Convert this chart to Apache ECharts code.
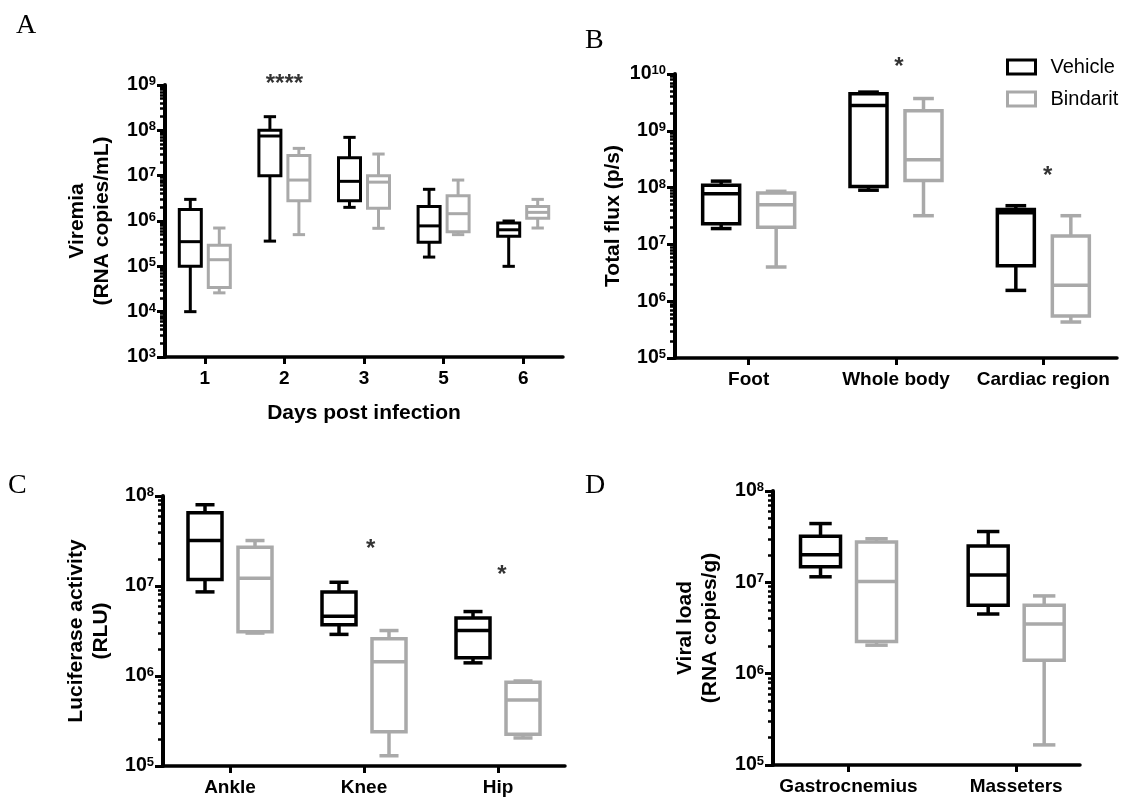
<!DOCTYPE html>
<html><head><meta charset="utf-8">
<script src="https://cdn.jsdelivr.net/npm/echarts@6/dist/echarts.min.js"></script>
<style>html,body{margin:0;padding:0;background:#fff}#c{width:1126px;height:801px}</style>
</head><body><div id="c"></div>
<script>
// ---------- DATA (each box: [min, q1, median, q3, max]) ----------
const daysA = ['1', '2', '3', '5', '6'];
const posA = [0.5, 1.5, 2.5, 3.5, 4.5];
const vehicleA = [
  [1e4, 1e5, 3.5e5, 1.8e6, 3e6],
  [3.6e5, 1e7, 7.5e7, 1e8, 2e8],
  [2e6, 2.8e6, 7.5e6, 2.5e7, 7e7],
  [1.6e5, 3.4e5, 7.8e5, 2.1e6, 5e6],
  [1e5, 4.6e5, 6.4e5, 9e5, 1e6]
];
const bindaritA = [
  [2.6e4, 3.4e4, 1.4e5, 2.9e5, 7e5],
  [5e5, 2.8e6, 8e6, 2.8e7, 4e7],
  [6.9e5, 1.9e6, 7.2e6, 1e7, 3e7],
  [5e5, 5.8e5, 1.45e6, 3.6e6, 8e6],
  [7e5, 1.15e6, 1.55e6, 2.1e6, 3e6]
];
const decadesA = [1e3, 1e4, 1e5, 1e6, 1e7, 1e8, 1e9];

const sitesB = ['Foot', 'Whole body', 'Cardiac region'];
const posB = [0.5, 1.5, 2.5];
const vehicleB = [
  [1.9e7, 2.3e7, 7.8e7, 1.1e8, 1.3e8],
  [9e7, 1.05e8, 2.8e9, 4.5e9, 4.8e9],
  [1.55e6, 4.2e6, 3.6e7, 4.1e7, 4.8e7]
];
const bindaritB = [
  [4e6, 2e7, 5e7, 8e7, 8.6e7],
  [3.2e7, 1.34e8, 3.1e8, 2.25e9, 3.7e9],
  [4.3e5, 5.5e5, 1.9e6, 1.4e7, 3.2e7]
];
const decadesB = [1e5, 1e6, 1e7, 1e8, 1e9, 1e10];

const jointsC = ['Ankle', 'Knee', 'Hip'];
const posC = [0.5, 1.5, 2.5];
const vehicleC = [
  [8.6e6, 1.18e7, 3.2e7, 6.5e7, 8e7],
  [2.9e6, 3.7e6, 4.6e6, 8.6e6, 1.1e7],
  [1.4e6, 1.6e6, 3.2e6, 4.4e6, 5.2e6]
];
const bindaritC = [
  [3e6, 3.1e6, 1.22e7, 2.7e7, 3.2e7],
  [1.3e5, 2.4e5, 1.44e6, 2.6e6, 3.2e6],
  [2.05e5, 2.25e5, 5.4e5, 8.5e5, 8.8e5]
];
const decadesC = [1e5, 1e6, 1e7, 1e8];

const musclesD = ['Gastrocnemius', 'Masseters'];
const posD = [1, 3.22];
const vehicleD = [
  [1.15e7, 1.48e7, 2.0e7, 3.2e7, 4.4e7],
  [4.5e6, 5.6e6, 1.2e7, 2.5e7, 3.6e7]
];
const bindaritD = [
  [2.05e6, 2.25e6, 1.02e7, 2.77e7, 3e7],
  [1.66e5, 1.4e6, 3.5e6, 5.6e6, 7.1e6]
];
const decadesD = [1e5, 1e6, 1e7, 1e8];

// significance marks: [x position, y value, text]
const starsA = [[1.5, 1.3e9, '****']];
const starsB = [[1.52, 1.6e10, '*'], [2.53, 1.9e8, '*']];
const starsC = [[1.55, 2.9e7, '*'], [2.53, 1.5e7, '*']];

// ---------- STYLE ----------
const FONT = "'Liberation Sans', Arial, sans-serif";
const BLACK = '#000000';
const GRAY = '#a9a9a9';

function minorTicks(decades) {
  const out = [];
  for (let i = 0; i < decades.length - 1; i++) {
    for (let k = 2; k <= 9; k++) out.push(k * decades[i]);
  }
  return out;
}

function boxRender(offset, boxW, color, lw) {
  return function (params, api) {
    const x = api.value(0);
    const pMin = api.coord([x, api.value(1)]);
    const pQ1 = api.coord([x, api.value(2)]);
    const pMed = api.coord([x, api.value(3)]);
    const pQ3 = api.coord([x, api.value(4)]);
    const pMax = api.coord([x, api.value(5)]);
    const cx = pMin[0] + offset;
    const hw = boxW / 2, cw = boxW * 0.28;
    const st = { stroke: color, lineWidth: lw, fill: null };
    return {
      type: 'group', children: [
        { type: 'line', shape: { x1: cx, y1: pMax[1], x2: cx, y2: pQ3[1] }, style: st },
        { type: 'line', shape: { x1: cx, y1: pQ1[1], x2: cx, y2: pMin[1] }, style: st },
        { type: 'line', shape: { x1: cx - cw, y1: pMax[1], x2: cx + cw, y2: pMax[1] }, style: st },
        { type: 'line', shape: { x1: cx - cw, y1: pMin[1], x2: cx + cw, y2: pMin[1] }, style: st },
        { type: 'rect', shape: { x: cx - hw, y: pQ3[1], width: boxW, height: pQ1[1] - pQ3[1] },
          style: { stroke: color, lineWidth: lw, fill: '#ffffff', lineJoin: 'miter' } },
        { type: 'line', shape: { x1: cx - hw, y1: pMed[1], x2: cx + hw, y2: pMed[1] }, style: st }
      ]
    };
  };
}

function rows(pos, boxes) {
  return boxes.map((b, i) => [pos[i]].concat(b));
}

function supLabel(v) {
  const e = Math.round(Math.log10(v));
  return '10{s|' + e + '}';
}

const panels = [
  { grid: { left: 165, top: 85, width: 398, height: 272 }, xmax: 5, pos: posA, cats: daysA,
    veh: vehicleA, bin: bindaritA, dec: decadesA, name: 'Viremia\n(RNA copies/mL)', nameGap: 50,
    xname: 'Days post infection', boxW: 22, off: 14.5, lw: 3, stars: starsA },
  { grid: { left: 675, top: 74, width: 442, height: 284 }, xmax: 3, pos: posB, cats: sitesB,
    veh: vehicleB, bin: bindaritB, dec: decadesB, name: 'Total flux (p/s)', nameGap: 46,
    xname: '', boxW: 37, off: 27.5, lw: 3.5, stars: starsB },
  { grid: { left: 163, top: 496, width: 402, height: 270 }, xmax: 3, pos: posC, cats: jointsC,
    veh: vehicleC, bin: bindaritC, dec: decadesC, name: 'Luciferase activity\n(RLU)', nameGap: 49,
    xname: '', boxW: 34, off: 25, lw: 3.5, stars: starsC },
  { grid: { left: 773, top: 491, width: 307, height: 274 }, xmax: 4.065, pos: posD, cats: musclesD,
    veh: vehicleD, bin: bindaritD, dec: decadesD, name: 'Viral load\n(RNA copies/g)', nameGap: 50,
    xname: '', boxW: 40, off: 28, lw: 3.5, stars: [] }
];

const grids = [], xAxes = [], yAxes = [], series = [];
panels.forEach((p, gi) => {
  grids.push(p.grid);
  xAxes.push({
    gridIndex: gi, type: 'value', min: 0, max: p.xmax,
    splitLine: { show: false },
    axisLine: { show: true, onZero: false, lineStyle: { color: BLACK, width: 3.5 } },
    axisTick: { show: true, customValues: p.pos, length: 7, lineStyle: { color: BLACK, width: 3 } },
    axisLabel: {
      show: true, customValues: p.pos, margin: 12,
      formatter: v => { const i = p.pos.findIndex(q => Math.abs(q - v) < 1e-6); return i >= 0 ? p.cats[i] : ''; },
      fontFamily: FONT, fontWeight: 'bold', fontSize: 19, color: BLACK
    },
    name: p.xname, nameLocation: 'middle', nameGap: 46,
    nameTextStyle: { fontFamily: FONT, fontWeight: 'bold', fontSize: 21, color: BLACK }
  });
  const yMain = yAxes.length;
  yAxes.push({
    gridIndex: gi, type: 'log', logBase: 10, position: 'left',
    min: p.dec[0], max: p.dec[p.dec.length - 1],
    splitLine: { show: false },
    axisLine: { show: true, onZero: false, lineStyle: { color: BLACK, width: 4 } },
    axisTick: { show: true, customValues: p.dec, length: 8, lineStyle: { color: BLACK, width: 3 } },
    axisLabel: {
      show: true, customValues: p.dec, margin: 9, formatter: supLabel,
      fontFamily: FONT, fontWeight: 'bold', fontSize: 19.5, color: BLACK,
      rich: { s: { fontFamily: FONT, fontWeight: 'bold', fontSize: 13, color: BLACK, verticalAlign: 'top' } }
    },
    name: p.name, nameLocation: 'middle', nameGap: p.nameGap, nameRotate: 90,
    nameTextStyle: { fontFamily: FONT, fontWeight: 'bold', fontSize: 21, color: BLACK, lineHeight: 25 }
  });
  yAxes.push({
    gridIndex: gi, type: 'log', logBase: 10, position: 'left', offset: 0,
    min: p.dec[0], max: p.dec[p.dec.length - 1],
    splitLine: { show: false },
    axisLine: { show: false, onZero: false },
    axisTick: { show: true, customValues: minorTicks(p.dec), length: 5, lineStyle: { color: BLACK, width: 2.5 } },
    axisLabel: { show: false }
  });
  series.push({
    type: 'custom', name: 'Vehicle', xAxisIndex: gi, yAxisIndex: yMain,
    itemStyle: { color: BLACK }, clip: false,
    renderItem: boxRender(-p.off, p.boxW, BLACK, p.lw),
    encode: { x: 0, y: [1, 2, 3, 4, 5] },
    data: rows(p.pos, p.veh)
  });
  series.push({
    type: 'custom', name: 'Bindarit', xAxisIndex: gi, yAxisIndex: yMain,
    itemStyle: { color: GRAY }, clip: false,
    renderItem: boxRender(p.off, p.boxW, GRAY, p.lw),
    encode: { x: 0, y: [1, 2, 3, 4, 5] },
    data: rows(p.pos, p.bin)
  });
  if (p.stars.length) {
    series.push({
      type: 'scatter', xAxisIndex: gi, yAxisIndex: yMain, symbolSize: 0, clip: false, silent: true,
      data: p.stars,
      label: {
        show: true, position: 'inside', offset: [0, 5], formatter: d => d.data[2],
        fontFamily: FONT, fontWeight: 'bold', fontSize: 24, color: BLACK
      }
    });
  }
});

const letterStyle = { fontFamily: "'Liberation Serif', 'Times New Roman', serif", fontSize: 28, fill: BLACK };
const option = {
  backgroundColor: '#ffffff',
  animation: false,
  grid: grids,
  xAxis: xAxes,
  yAxis: yAxes,
  series: series,
  legend: {
    orient: 'vertical', left: 1001, top: 52, itemWidth: 28, itemHeight: 14, itemGap: 12,
    textStyle: { fontFamily: FONT, fontSize: 20, color: BLACK, padding: [0, 0, 0, 10] },
    data: [
      { name: 'Vehicle', icon: 'rect', itemStyle: { color: '#ffffff', borderColor: BLACK, borderWidth: 3 } },
      { name: 'Bindarit', icon: 'rect', itemStyle: { color: '#ffffff', borderColor: GRAY, borderWidth: 3 } }
    ]
  },
  graphic: [
    { type: 'text', left: 16, top: 12, style: Object.assign({ text: 'A' }, letterStyle) },
    { type: 'text', left: 585, top: 27, style: Object.assign({ text: 'B' }, letterStyle) },
    { type: 'text', left: 8, top: 472, style: Object.assign({ text: 'C' }, letterStyle) },
    { type: 'text', left: 585, top: 472, style: Object.assign({ text: 'D' }, letterStyle) }
  ]
};

const chart = echarts.init(document.getElementById('c'), null, { renderer: 'canvas' });
chart.setOption(option);
</script>
</body></html>
